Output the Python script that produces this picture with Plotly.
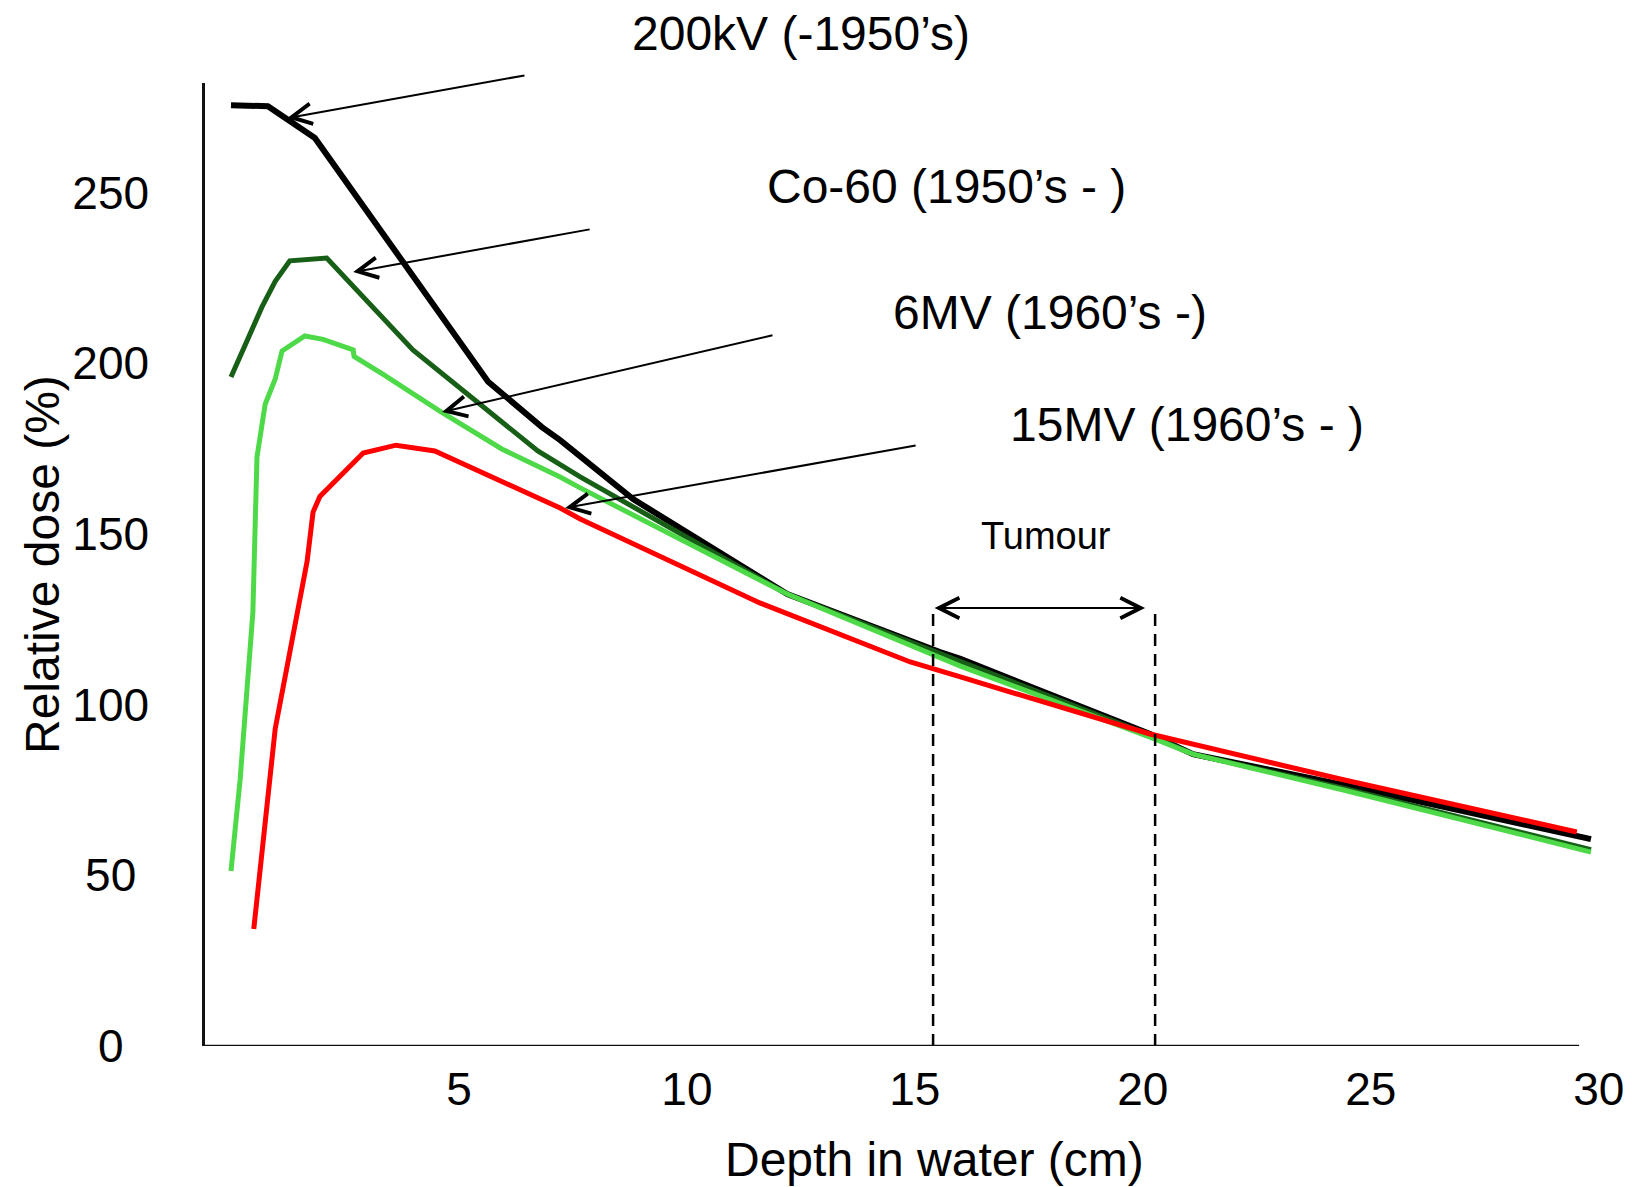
import plotly.graph_objects as go

# ---------------- data ----------------
depth_200kv = [0.0, 0.81, 1.84, 3.7, 5.64, 6.82, 7.22, 8.82, 12.2, 15.55, 16.0, 20.16, 21.1, 24.4, 29.83]
dose_200kv = [275.6, 275.3, 266.0, 231.0, 194.6, 181.3, 177.5, 160.2, 132.4, 115.4, 113.4, 91.4, 85.5, 76.5, 60.6]

depth_co60 = [0.0, 0.68, 0.97, 1.12, 1.29, 2.1, 3.99, 6.73, 7.22, 7.66, 12.2, 16.0, 20.16, 21.1, 24.4, 29.83]
dose_co60 = [196.0, 216.5, 224.0, 226.7, 230.0, 230.8, 203.9, 174.3, 170.5, 166.7, 132.4, 112.5, 91.0, 85.5, 75.5, 57.5]

depth_6mv = [0.0, 0.2, 0.48, 0.57, 0.75, 0.97, 1.12, 1.62, 2.02, 2.68, 2.70, 3.33, 4.58, 5.94, 7.22, 7.66,
             12.2, 16.0, 20.16, 21.1, 24.4, 29.83]
dose_6mv = [51.3, 78.0, 127.0, 172.5, 188.0, 195.4, 203.6, 208.0, 207.0, 203.9, 202.0, 196.8, 186.0, 174.9,
            166.7, 163.5, 132.4, 111.3, 90.5, 85.5, 75.0, 56.8]

depth_15mv = [0.5, 0.83, 0.97, 1.67, 1.8, 1.95, 2.9, 3.62, 4.47, 7.22, 7.66, 11.6, 14.9, 16.0, 20.16, 24.4, 29.52]
dose_15mv = [34.3, 78.0, 92.9, 142.0, 156.4, 161.0, 173.7, 176.0, 174.3, 157.6, 154.4, 129.8, 112.5, 108.1,
             91.4, 78.0, 62.7]

series_names = ["200kV (-1950\u2019s)", "Co-60 (1950\u2019s - )", "6MV (1960\u2019s -)", "15MV (1960\u2019s - )"]
series_colors = ["#000000", "#175E17", "#4DD948", "#FF0000"]
series_widths = [6, 5, 5, 5]

x_tick_values = [5, 10, 15, 20, 25, 30]
y_tick_values = [0, 50, 100, 150, 200, 250]
y_tick_labels = ["0\u2007", "50\u2008", "100", "150", "200", "250"]

tumour_start = 15.4
tumour_end = 20.27
tumour_label = "Tumour"

x_title = "Depth in water (cm)"
y_title = "Relative dose (%)"

# ---------------- layout geometry ----------------
FONT = "Liberation Sans, Arial, sans-serif"
BODY = 8  # default page body margin of the HTML page
W, H = 1632 - BODY, 1187 - BODY
ML, MR, MT, MB = 205 - BODY, 31, 83 - BODY, 141
x_range = [-0.57, 30.05]
y_range = [0, 282.1]


def px_to_paper(px, py):
    """screen pixel (of the 1632x1187 window) -> paper coords"""
    px -= BODY
    py -= BODY
    return (px - ML) / (W - ML - MR), 1 - (py - MT) / (H - MT - MB)


fig = go.Figure()
series = [(depth_200kv, dose_200kv), (depth_co60, dose_co60), (depth_6mv, dose_6mv), (depth_15mv, dose_15mv)]
for (xs, ys), name, col, lw in zip(series, series_names, series_colors, series_widths):
    fig.add_trace(go.Scatter(x=xs, y=ys, mode="lines", name=name,
                             line=dict(color=col, width=lw), hoverinfo="skip"))

annotations = []
label_pos = [(801, 33), (946, 187), (1050, 312), (1187, 424)]
for name, (px, py) in zip(series_names, label_pos):
    xp, yp = px_to_paper(px, py)
    annotations.append(dict(x=xp, y=yp, xref="paper", yref="paper", text=name, showarrow=False,
                            font=dict(family=FONT, size=48, color="black"),
                            xanchor="center", yanchor="middle"))

# pointer arrows: (tip x, tip y, tail x, tail y) in data units
pointers = [(1.23, 271.8, 6.47, 284.4), (2.68, 226.7, 7.90, 239.3),
            (4.63, 185.7, 11.91, 208.3), (7.33, 157.6, 15.05, 176.0)]
for tx, ty, sx, sy in pointers:
    annotations.append(dict(x=tx, y=ty, ax=sx, ay=sy, xref="x", yref="y", axref="x", ayref="y",
                            text="", showarrow=True, arrowhead=5, arrowsize=2.0, arrowwidth=2,
                            arrowcolor="black", standoff=0))

# tumour double arrow
annotations.append(dict(x=tumour_end - 0.22, y=128.3, ax=tumour_start, ay=128.3, xref="x", yref="y",
                        axref="x", ayref="y", text="", showarrow=True, arrowside="end+start",
                        arrowhead=5, startarrowhead=5, arrowsize=2.0, startarrowsize=2.0,
                        arrowwidth=2, arrowcolor="black", standoff=0, startstandoff=0))
xp, yp = px_to_paper(1046, 536)
annotations.append(dict(x=xp, y=yp, xref="paper", yref="paper", text=tumour_label, showarrow=False,
                        font=dict(family=FONT, size=38, color="black"), xanchor="center", yanchor="middle"))

# axis titles
xp, yp = px_to_paper(934, 1159)
annotations.append(dict(x=xp, y=yp, xref="paper", yref="paper", text=x_title, showarrow=False,
                        font=dict(family=FONT, size=48, color="black"), xanchor="center", yanchor="middle"))
xp, yp = px_to_paper(42, 565)
annotations.append(dict(x=xp, y=yp, xref="paper", yref="paper", text=y_title, showarrow=False,
                        textangle=-90, font=dict(family=FONT, size=48, color="black"),
                        xanchor="center", yanchor="middle"))

shapes = []
for xv in (tumour_start, tumour_end):
    shapes.append(dict(type="line", xref="x", yref="y", x0=xv, x1=xv, y0=0, y1=128.9,
                       line=dict(color="black", width=2.5, dash="12px,8px")))
# x axis baseline (stops short of the last tick label, as in the reference)
shapes.append(dict(type="line", xref="x", yref="y", x0=x_range[0], x1=29.57, y0=0, y1=0,
                   line=dict(color="#111111", width=2.5)))

fig.update_layout(
    width=W, height=H,
    margin=dict(l=ML, r=MR, t=MT, b=MB, pad=0, autoexpand=False),
    paper_bgcolor="white", plot_bgcolor="white",
    showlegend=False,
    font=dict(family=FONT, color="black"),
    annotations=annotations, shapes=shapes,
    xaxis=dict(range=x_range, tickvals=x_tick_values, ticks="", showgrid=False, zeroline=False,
               showline=False, automargin=False, tickfont=dict(family=FONT, size=46, color="black"),
               ticklabelstandoff=12),
    yaxis=dict(range=y_range, tickvals=y_tick_values, ticktext=y_tick_labels, ticks="",
               showgrid=False, zeroline=False, showline=True, linecolor="#111111", linewidth=2.5,
               automargin=False, tickfont=dict(family=FONT, size=46, color="black"),
               ticklabelstandoff=44),
)

fig.write_html("out.html")
